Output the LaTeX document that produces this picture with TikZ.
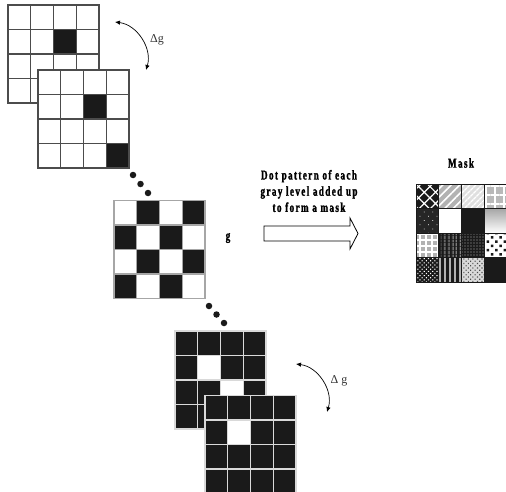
\documentclass[tikz,border=0pt]{standalone}
\usepackage{fontspec}
\setmainfont{Liberation Serif}
\newfontfamily\labfont[FakeStretch=0.68,LetterSpace=10,BoldFeatures={FakeBold=1.5}]{Liberation Serif}
\usepackage{tikz}
\usetikzlibrary{arrows.meta,calc,patterns.meta}
\definecolor{inkblack}{HTML}{1A1A1A}

\begin{document}
\begin{tikzpicture}[x=1pt,y=-1pt,
  frame/.style={minimum width=91pt,minimum height=98pt,inner sep=0pt,outer sep=0pt},
  wcell/.style={fill=white,draw=black!70,line width=1.2pt},
  bcell/.style={fill=inkblack,draw=black!70,line width=1.2pt},
  ccell/.style={fill=#1,draw=gray!70,line width=1.2pt},
  dcell/.style={fill=#1,draw=gray!30,line width=1.2pt},
  mcell/.style={draw=inkblack,line width=0.9pt},
  dot/.style={circle,fill=inkblack,inner sep=0pt,minimum size=6.5pt},
  swing/.style={{Latex[length=5pt,width=4.5pt]}-{Latex[length=5pt,width=4.5pt]},line width=0.7pt},
  lab/.style={font=\labfont\bfseries\fontsize{13.5}{16.2}\selectfont,align=center,inner sep=0pt},
  dlab/.style={font=\fontsize{12}{13}\selectfont,text=black!80,inner sep=0pt}]
  \useasboundingbox (0,0) rectangle (506,492);

  % first gray level and the next one
  \node[frame] (G1) at (53.5,54) {};
  \foreach \r in {0,...,3} \foreach \c in {0,...,3}
    \draw[wcell] ($(G1.north west)+(\c*22.75,\r*24.5)$) rectangle +(22.75,24.5);
  \draw[bcell] ($(G1.north west)+(2*22.75,1*24.5)$) rectangle +(22.75,24.5);
  \node[frame] (G2) at (83.5,119) {};
  \foreach \r in {0,...,3} \foreach \c in {0,...,3}
    \draw[wcell] ($(G2.north west)+(\c*22.75,\r*24.5)$) rectangle +(22.75,24.5);
  \foreach \r/\c in {1/2,3/3}
    \draw[bcell] ($(G2.north west)+(\c*22.75,\r*24.5)$) rectangle +(22.75,24.5);
  \coordinate (s1a) at (115,22);
  \coordinate (s1b) at (146,70);
  \draw[swing] (s1a) to[bend left=50] (s1b);
  \node[dlab] (dg1) at (157,40) {Δg};

  \node[dot] (d1) at (133,175) {};
  \node[dot] (d2) at (140.5,184) {};
  \node[dot] (d3) at (148,193) {};

  % level g
  \node[frame] (G3) at (159.5,249.5) {};
  \foreach \r in {0,...,3} \foreach \c in {0,...,3}
    \draw[ccell=white] ($(G3.north west)+(\c*22.75,\r*24.5)$) rectangle +(22.75,24.5);
  \foreach \r/\c in {0/1,0/3,1/0,1/2,2/1,2/3,3/0,3/2}
    \draw[ccell=inkblack] ($(G3.north west)+(\c*22.75,\r*24.5)$) rectangle +(22.75,24.5);
  \node[lab] (glab) at (228,238) {g};

  \node[dot] (d4) at (209,306) {};
  \node[dot] (d5) at (216.5,314.5) {};
  \node[dot] (d6) at (224,323) {};

  % last two levels
  \node[frame] (G4) at (220.5,380) {};
  \foreach \r in {0,...,3} \foreach \c in {0,...,3}
    \draw[dcell=inkblack] ($(G4.north west)+(\c*22.75,\r*24.5)$) rectangle +(22.75,24.5);
  \foreach \r/\c in {1/1,2/2}
    \draw[dcell=white] ($(G4.north west)+(\c*22.75,\r*24.5)$) rectangle +(22.75,24.5);
  \node[frame] (G5) at (250.5,444.5) {};
  \foreach \r in {0,...,3} \foreach \c in {0,...,3}
    \draw[dcell=inkblack] ($(G5.north west)+(\c*22.75,\r*24.5)$) rectangle +(22.75,24.5);
  \draw[dcell=white] ($(G5.north west)+(1*22.75,1*24.5)$) rectangle +(22.75,24.5);
  \coordinate (s2a) at (296,364);
  \coordinate (s2b) at (327,412);
  \draw[swing] (s2a) to[bend left=50] (s2b);
  \node[dlab] (dg2) at (339,381) {Δ g};

  % block arrow and caption
  \draw[line width=0.8pt,fill=white] (264,226) -- (350,226) -- (350,218) -- (358,233.5)
    -- (350,249) -- (350,241) -- (264,241) -- cycle;
  \node[lab] (caption) at (309,191) {Dot pattern of each\\gray level added up\\to form a mask};

  % mask
  \node[lab] (masklab) at (461,163) {Mask};
  \node[frame] (M) at (461.5,233) {};
  \foreach \r/\c/\sty in {
    0/0/{preaction={fill=inkblack},pattern={Hatch[angle=45,distance=8pt,line width=1.2pt]},pattern color=white},
    0/1/{preaction={fill=gray!60},pattern={Lines[angle=45,distance=6pt,line width=1.5pt]},pattern color=white},
    0/2/{preaction={fill=gray!25},pattern={Lines[angle=45,distance=4pt,line width=1.4pt]},pattern color=white},
    0/3/{preaction={fill=gray!55},pattern={Hatch[angle=0,distance=9pt,line width=1.6pt]},pattern color=white},
    1/0/{preaction={fill=black!85},pattern={Dots[angle=45,distance=6pt,radius=0.6pt]},pattern color=white},
    1/1/{fill=white},
    1/2/{fill=inkblack},
    1/3/{top color=gray!70,bottom color=white},
    2/0/{preaction={fill=gray!60},pattern={Hatch[angle=0,distance=6pt,line width=1.8pt]},pattern color=white},
    2/1/{preaction={fill=inkblack},pattern={Lines[angle=90,distance=4pt,line width=0.8pt]},pattern color=gray!45},
    2/2/{preaction={fill=inkblack},pattern={Dots[distance=3pt,radius=0.6pt]},pattern color=gray!60},
    2/3/{preaction={fill=white},pattern={Dots[angle=45,distance=6pt,radius=1.7pt]},pattern color=inkblack},
    3/0/{preaction={fill=inkblack},pattern={Dots[angle=45,distance=3pt,radius=0.8pt]},pattern color=white},
    3/1/{preaction={fill=inkblack},pattern={Lines[angle=90,distance=5pt,line width=2.2pt]},pattern color=gray!60},
    3/2/{preaction={fill=gray!30},pattern={Dots[angle=45,distance=3.2pt,radius=0.8pt]},pattern color=black!70},
    3/3/{fill=inkblack}}
  {
    \tikzset{mfill/.style/.expand once=\sty}
    \path[mcell,mfill] ($(M.north west)+(\c*22.75,\r*24.5)$) rectangle +(22.75,24.5);
  }
\end{tikzpicture}
\end{document}
